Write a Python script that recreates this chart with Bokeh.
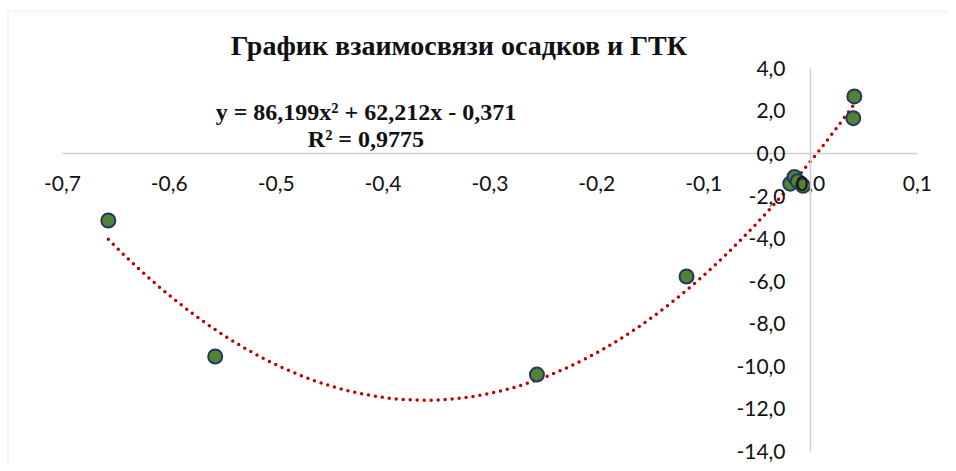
import numpy as np
from bokeh.plotting import figure
from bokeh.models import (Range1d, FixedTicker, CustomJSTickFormatter, Label,
                          ColumnDataSource, BoxAnnotation)
from bokeh.embed import file_html
from bokeh.resources import INLINE

# Data
x_vals = [-0.657, -0.557, -0.256, -0.116, -0.019, -0.015, -0.012, -0.007, 0.040, 0.041]
y_vals = [-3.15, -9.54, -10.39, -5.78, -1.42, -1.10, -1.30, -1.52, 1.66, 2.68]

# Polynomial trendline coefficients shown on the chart (a*x^2 + b*x + c)
trend_coef = [86.199, 62.212, -0.371]

x_ticks = [-0.7, -0.6, -0.5, -0.4, -0.3, -0.2, -0.1, 0.0, 0.1]
y_ticks = [-14, -12, -10, -8, -6, -4, -2, 0, 2, 4]

title_text = "График взаимосвязи осадков и ГТК"
eq_text = "y = 86,199x² + 62,212x - 0,371"
r2_text = "R² = 0,9775"

W, H = 948, 463
X0, X1 = -0.7579, 0.1291
Y0, Y1 = -14.57, 7.19
p = figure(width=W, height=H, output_backend="svg", toolbar_location=None,
           x_range=Range1d(X0, X1), y_range=Range1d(Y0, Y1),
           min_border_left=0, min_border_right=0, min_border_top=0, min_border_bottom=0)
p.grid.visible = False
p.outline_line_color = None
p.background_fill_color = "white"
p.border_fill_color = "white"

# chart-area border (left and top edges visible in the cropped original)
sx = (X1 - X0) / W
sy = (Y1 - Y0) / H
p.add_layout(BoxAnnotation(left=X0 + 7.5 * sx, top=Y1 - 11 * sy, right=X1 + 1, bottom=Y0 - 5,
                           fill_alpha=0, line_color="#d9d9d9", line_width=2, level="underlay"))

fmt = CustomJSTickFormatter(code="""
var v = Math.abs(tick) < 1e-9 ? 0 : tick;
return v.toFixed(1).replace('.', ',');
""")

for ax, ticks in ((p.xaxis[0], x_ticks), (p.yaxis[0], y_ticks)):
    ax.ticker = FixedTicker(ticks=ticks)
    ax.formatter = fmt
    ax.fixed_location = 0
    ax.bounds = (min(ticks), max(ticks))
    ax.axis_line_color = "#d0d0d0"
    ax.axis_line_width = 1.5
    ax.major_tick_line_color = None
    ax.minor_tick_line_color = None
    ax.major_label_text_font = "Lato"
    ax.major_label_text_font_size = "21px"
    ax.major_label_text_color = "#111111"
p.xaxis[0].major_label_standoff = 17
p.yaxis[0].major_label_standoff = 19

# trendline
c = trend_coef
tx = np.linspace(min(x_vals), max(x_vals), 300)
ty = c[0] * tx**2 + c[1] * tx + c[2]
p.line(tx, ty, line_color="#C00000", line_width=3.5, line_dash="0 7", line_cap="round")

src = ColumnDataSource(dict(x=x_vals, y=y_vals))
p.scatter("x", "y", source=src, size=14, fill_color="#548235",
          line_color="#1F3864", line_width=2)

p.add_layout(Label(x=-0.329, y=5.07, text=title_text, text_align="center", text_baseline="middle",
                   text_font="Liberation Serif", text_font_style="bold", text_font_size="28px",
                   text_color="#111111"))
p.add_layout(Label(x=-0.416, y=1.93, text=eq_text, text_align="center", text_baseline="middle",
                   text_font="Liberation Serif", text_font_style="bold", text_font_size="24px",
                   text_color="#111111"))
p.add_layout(Label(x=-0.416, y=0.70, text=r2_text, text_align="center", text_baseline="middle",
                   text_font="Liberation Serif", text_font_style="bold", text_font_size="24px",
                   text_color="#111111"))

open("out.html", "w").write(file_html(p, INLINE))
